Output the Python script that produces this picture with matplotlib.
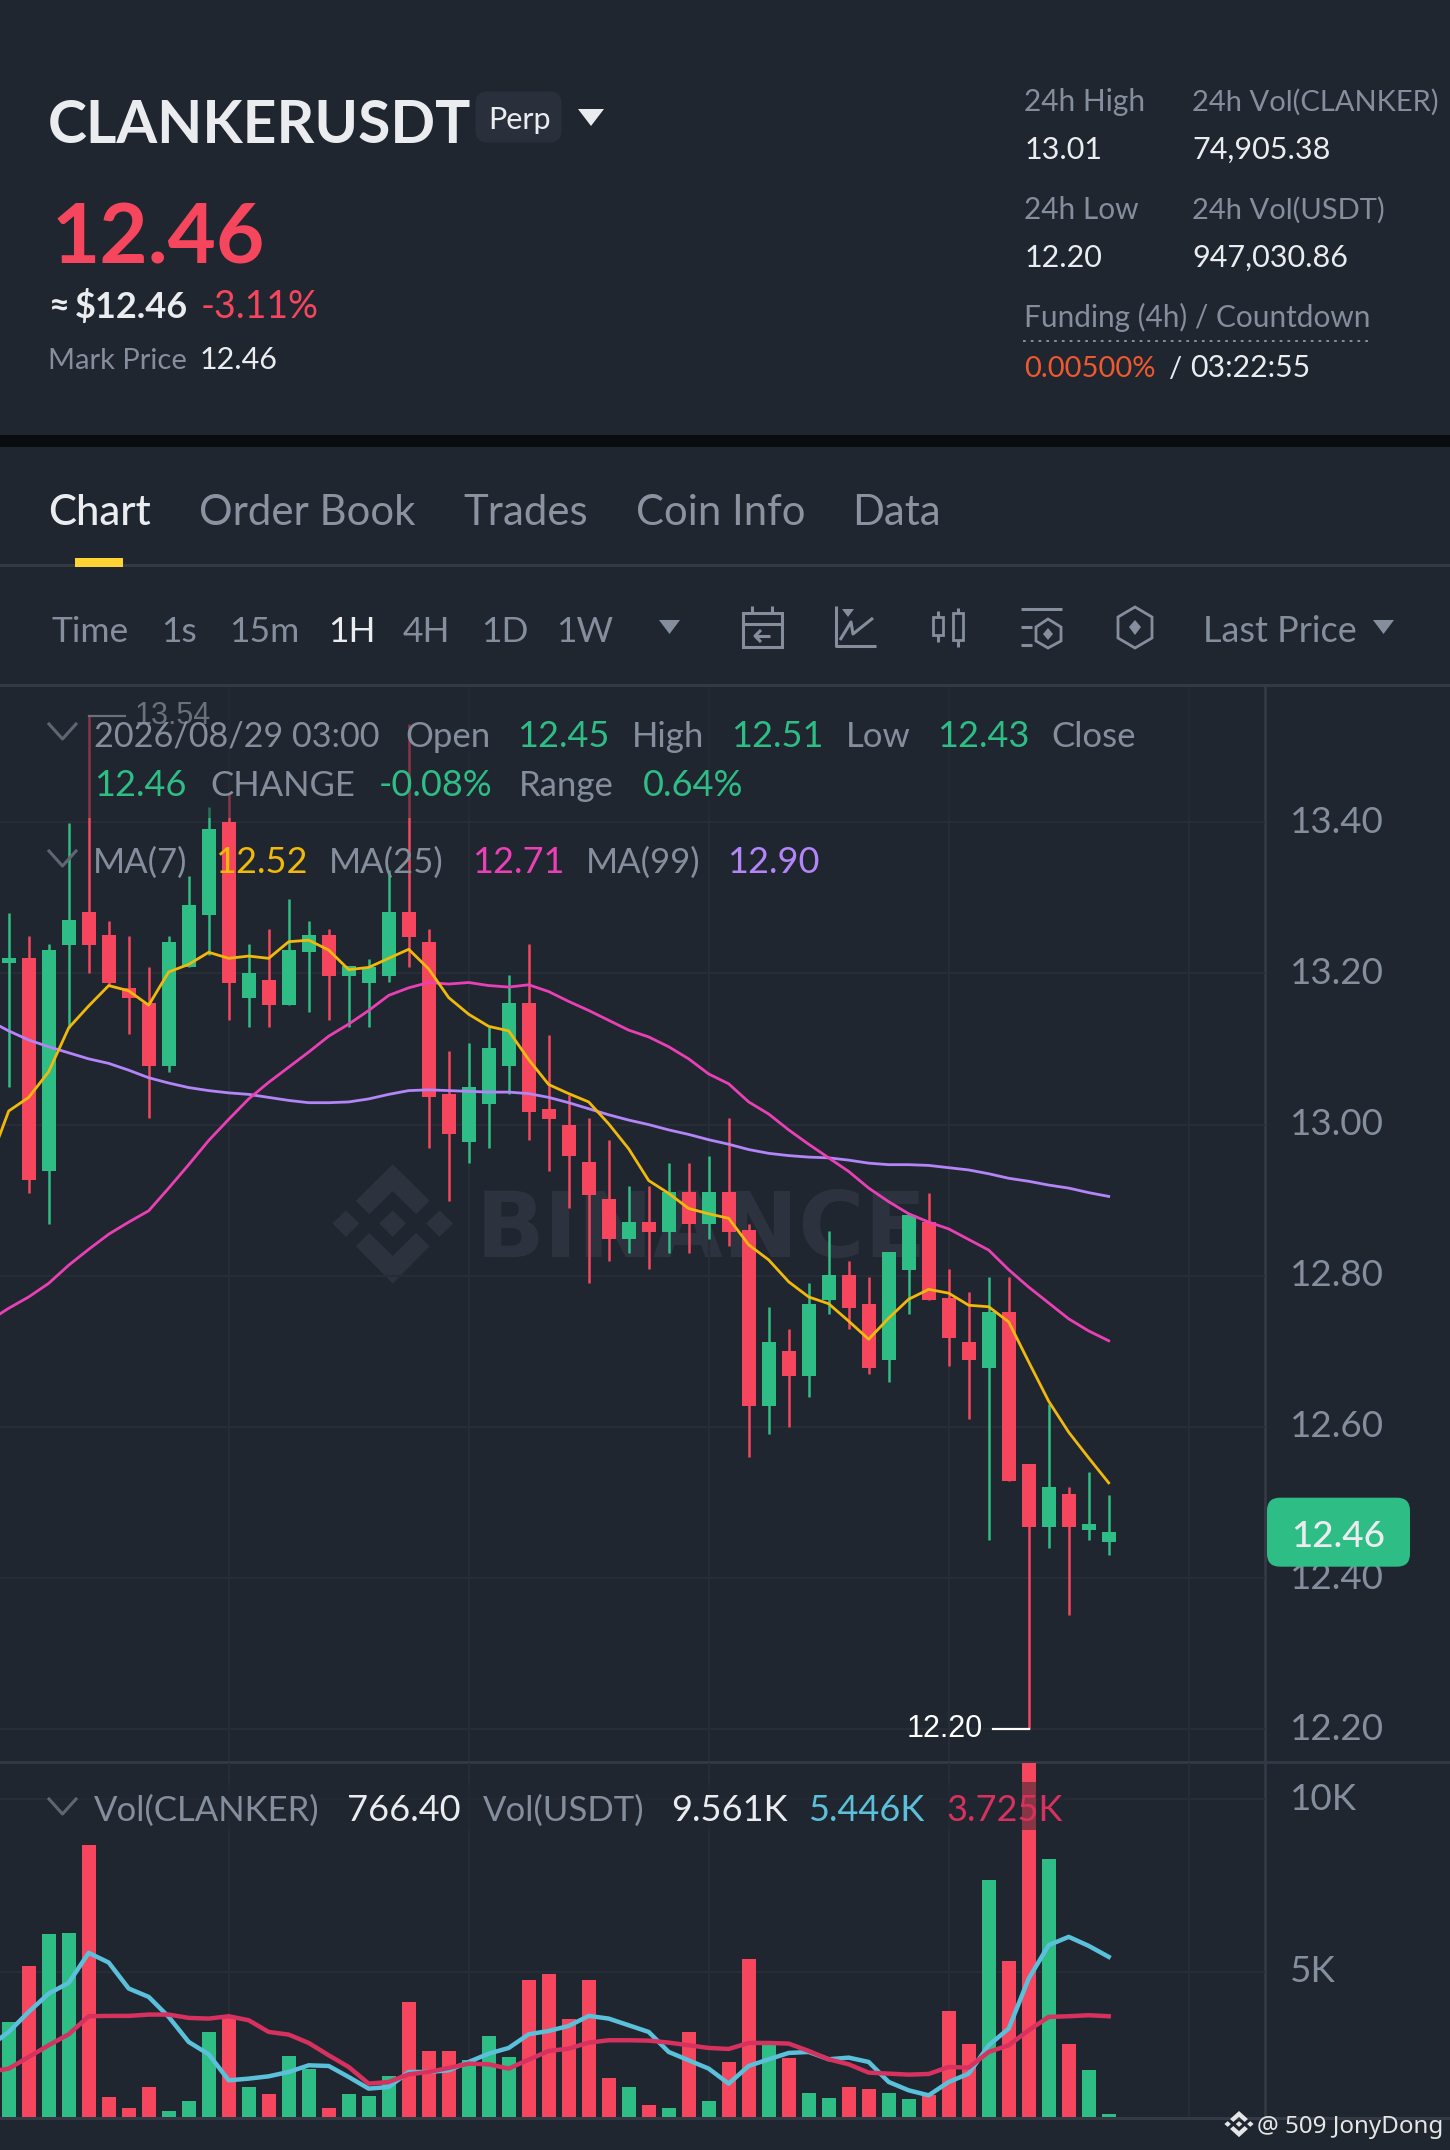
import numpy as np
import matplotlib
matplotlib.use("Agg")
import matplotlib.pyplot as plt
from matplotlib.patches import Rectangle, FancyBboxPatch, Polygon
from matplotlib.transforms import ScaledTranslation

W, H = 1450, 2150
BG = "#1F2630"
GREEN = "#2EBD85"
RED = "#F6465D"
GRAY = "#848E9C"
WHITE = "#EAECEF"
LINE = "#333A46"
GRID = "#272D37"
FONT = ["Lato", "DejaVu Sans"]

# candles, left to right (o, h, l, c)
opens = [13.214, 13.22, 12.938, 13.238, 13.281, 13.251, 13.181, 13.161, 13.077, 13.208,
         13.277, 13.401, 13.168, 13.191, 13.158, 13.228, 13.251, 13.197, 13.187, 13.197,
         13.281, 13.241, 13.04, 12.977, 13.027, 13.077, 13.161, 13.02, 13.0, 12.951,
         12.901, 12.848, 12.871, 12.858, 12.911, 12.868, 12.911, 12.861, 12.628, 12.701,
         12.668, 12.768, 12.801, 12.762, 12.688, 12.808, 12.871, 12.771, 12.712, 12.678,
         12.752, 12.551, 12.468, 12.511, 12.464, 12.448]
closes = [13.22, 12.927, 13.231, 13.271, 13.238, 13.187, 13.168, 13.077, 13.241, 13.291,
          13.391, 13.187, 13.201, 13.158, 13.231, 13.251, 13.197, 13.21, 13.208, 13.281,
          13.248, 13.037, 12.987, 13.05, 13.101, 13.161, 13.017, 13.007, 12.958, 12.907,
          12.848, 12.871, 12.858, 12.911, 12.868, 12.911, 12.858, 12.628, 12.712, 12.668,
          12.762, 12.801, 12.758, 12.678, 12.831, 12.881, 12.768, 12.718, 12.688, 12.752,
          12.528, 12.468, 12.521, 12.468, 12.471, 12.461]
highs = [13.28, 13.25, 13.239, 13.399, 13.54, 13.269, 13.249, 13.209, 13.249, 13.329,
         13.42, 13.437, 13.239, 13.259, 13.299, 13.269, 13.259, 13.21, 13.219, 13.337,
         13.53, 13.259, 13.098, 13.108, 13.129, 13.198, 13.239, 13.119, 13.039, 13.009,
         12.979, 12.919, 12.919, 12.949, 12.949, 12.959, 13.009, 12.869, 12.759, 12.73,
         12.79, 12.859, 12.819, 12.799, 12.831, 12.881, 12.909, 12.809, 12.779, 12.799,
         12.799, 12.551, 12.63, 12.52, 12.54, 12.51]
lows = [13.05, 12.91, 12.869, 13.128, 13.2, 13.183, 13.12, 13.009, 13.069, 13.208,
        13.225, 13.139, 13.129, 13.129, 13.158, 13.149, 13.139, 13.129, 13.129, 13.189,
        13.209, 12.969, 12.899, 12.949, 12.969, 13.04, 12.979, 12.939, 12.89, 12.79,
        12.819, 12.83, 12.809, 12.83, 12.83, 12.849, 12.84, 12.56, 12.59, 12.6,
        12.64, 12.75, 12.73, 12.67, 12.66, 12.75, 12.768, 12.68, 12.61, 12.45,
        12.528, 12.20, 12.44, 12.351, 12.45, 12.43]

# moving averages, first value sits one candle left of the frame
ma7 = [12.947, 13.018, 13.036, 13.07, 13.128, 13.157, 13.184, 13.177, 13.158, 13.202,
       13.212, 13.228, 13.22, 13.223, 13.22, 13.242, 13.244, 13.231, 13.205, 13.208,
       13.22, 13.232, 13.206, 13.168, 13.146, 13.13, 13.124, 13.086, 13.053, 13.041,
       13.03, 13.001, 12.968, 12.926, 12.909, 12.889, 12.882, 12.876, 12.841, 12.821,
       12.792, 12.772, 12.763, 12.74, 12.716, 12.744, 12.769, 12.782, 12.777, 12.761,
       12.759, 12.739, 12.686, 12.634, 12.593, 12.559, 12.526]
ma25 = [12.74, 12.757, 12.772, 12.79, 12.814, 12.835, 12.855, 12.871, 12.886, 12.916,
        12.947, 12.979, 13.007, 13.034, 13.056, 13.076, 13.096, 13.117, 13.133, 13.151,
        13.171, 13.181, 13.188, 13.186, 13.188, 13.184, 13.182, 13.185, 13.176, 13.163,
        13.151, 13.138, 13.125, 13.116, 13.103, 13.087, 13.067, 13.054, 13.03, 13.014,
        12.993, 12.974, 12.956, 12.938, 12.916, 12.898, 12.882, 12.871, 12.862, 12.848,
        12.834, 12.808, 12.785, 12.764, 12.743, 12.727, 12.714]
ma99 = [13.138, 13.124, 13.112, 13.103, 13.095, 13.087, 13.081, 13.072, 13.062, 13.055,
        13.049, 13.045, 13.042, 13.04, 13.036, 13.032, 13.029, 13.029, 13.03, 13.034,
        13.04, 13.045, 13.046, 13.045, 13.044, 13.043, 13.043, 13.041, 13.036, 13.029,
        13.021, 13.013, 13.006, 13.0, 12.993, 12.987, 12.98, 12.974, 12.967, 12.962,
        12.959, 12.957, 12.956, 12.953, 12.949, 12.947, 12.947, 12.946, 12.943, 12.94,
        12.935, 12.929, 12.925, 12.92, 12.916, 12.91, 12.905]

volumes = [3550, 5184, 6083, 6112, 8675, 1374, 1045, 1654, 958, 1267,
           3269, 3695, 1664, 1470, 2573, 2196, 1064, 1451, 1403, 1973,
           4130, 2708, 2708, 2437, 3153, 2524, 4778, 4942, 3627, 4758,
           1935, 1664, 1151, 1064, 3259, 1267, 2389, 5367, 2873, 2505,
           1490, 1354, 1654, 1596, 1490, 1316, 1422, 3869, 2921, 7659,
           5329, 11100, 8268, 2921, 2147, 890]
vol_ma5 = [2824, 3259, 3840, 4371, 4681, 5551, 5271, 4517, 4275, 3695,
           2969, 2612, 1857, 1906, 1973, 2099, 2292, 2273, 1954, 1616,
           1664, 2099, 2099, 2147, 2389, 2631, 2795, 3192, 3288, 3433,
           3724, 3646, 3453, 3259, 2679, 2437, 2196, 1761, 2273, 2467,
           2650, 2679, 2467, 2515, 2389, 1809, 1567, 1422, 1809, 2051,
           2873, 3356, 4807, 5774, 6015, 5754, 5435]
vol_ma10 = [2099, 2196, 2534, 2873, 3192, 3714, 3724, 3724, 3762, 3762,
            3666, 3646, 3714, 3598, 3259, 3182, 2940, 2583, 2244, 1761,
            1809, 2031, 2099, 2215, 2341, 2321, 2196, 2457, 2708, 2776,
            2950, 3018, 3018, 3008, 2950, 2873, 2795, 2766, 2940, 2940,
            2921, 2708, 2467, 2321, 2080, 2051, 2022, 2041, 2244, 2225,
            2679, 2873, 3308, 3695, 3714, 3743, 3714]

price_ticks = [13.40, 13.20, 13.00, 12.80, 12.60, 12.40, 12.20]
vol_ticks = [5000, 10000]
vol_tick_labels = ["5K", "10K"]
time_ticks = [11, 23, 35, 47, 59]
periods = ["Time", "1s", "15m", "1H", "4H", "1D", "1W"]
period_x = [52, 161, 229, 328, 403, 481, 556]
tabs = ["Chart", "Order Book", "Trades", "Coin Info", "Data"]
tab_x = [48, 199, 463, 636, 852]

xs = np.arange(len(opens))
ma_xs = np.arange(-1, len(opens))
fig = plt.figure(figsize=(W / 100, H / 100), dpi=100, facecolor=BG)


def px_axes(z):
    a = fig.add_axes([0, 0, 1, 1], zorder=z)
    a.set_xlim(0, W)
    a.set_ylim(H, 0)
    a.axis("off")
    return a


def txt(a, x, y, s, size, color=GRAY, weight="normal", family=FONT, **kw):
    a.text(x, y, s, fontsize=size, color=color, fontweight=weight, family=family,
           va=kw.pop("va", "baseline"), zorder=kw.pop("zorder", 3), **kw)


def pane(top, bottom):
    a = fig.add_axes([0, 1 - bottom / H, 1265 / W, (bottom - top) / H], zorder=2)
    a.set_facecolor("none")
    a.set_xlim(-0.435, 62.815)
    for s in a.spines.values():
        s.set_visible(False)
    a.set_xticks(time_ticks)
    a.yaxis.tick_right()
    a.tick_params(length=0, labelbottom=False, labelsize=26.5, labelcolor=GRAY, pad=18)
    a.grid(True, color=GRID, lw=1.6)
    a.set_axisbelow(True)
    return a


def nudge_labels(a):
    # tick labels sit a little above their grid lines
    up = ScaledTranslation(0, 3 / 100, fig.dpi_scale_trans)
    for lab in a.get_yticklabels():
        lab.set_family(FONT)
        lab.set_transform(lab.get_transform() + up)


back = px_axes(0)
front = px_axes(5)

# header
back.add_patch(Rectangle((0, 435), W, 12, color="#0A0D10", lw=0))
txt(back, 48, 143, "CLANKERUSDT", 42.3, WHITE, "bold")
back.add_patch(FancyBboxPatch((481, 97), 75, 40, boxstyle="round,pad=0,rounding_size=6",
                              mutation_aspect=1, color="#2A303B", lw=8))
txt(back, 488, 129, "Perp", 22, WHITE)
back.add_patch(Polygon([(578, 109), (604, 109), (591, 126)], color=WHITE, lw=0))
txt(back, 52, 264, "12.46", 60, RED, "bold")
txt(back, 48, 318, "≈", 26, WHITE, "bold")
txt(back, 75, 318, "$12.46", 26, WHITE, "bold")
txt(back, 201, 318, "-3.11%", 27, RED)
txt(back, 48, 369, "Mark Price", 21)
txt(back, 200, 369, "12.46", 22, WHITE)

txt(back, 1024, 111, "24h High", 21.5)
txt(back, 1192, 111, "24h Vol(CLANKER)", 21)
txt(back, 1025, 159, "13.01", 22, WHITE)
txt(back, 1192, 159, "74,905.38", 22, WHITE)
txt(back, 1024, 219, "24h Low", 21.5)
txt(back, 1192, 219, "24h Vol(USDT)", 21)
txt(back, 1025, 267, "12.20", 22, WHITE)
txt(back, 1192, 267, "947,030.86", 22, WHITE)
txt(back, 1024, 327, "Funding (4h) / Countdown", 21.4)
back.plot([1023, 1368], [341, 341], color=GRAY, lw=1.4, ls=(0, (1.4, 2.6)))
txt(back, 1024, 377, "0.00500%", 21, "#F0582F")
txt(back, 1168, 377, "/", 21, WHITE)
txt(back, 1190, 377, "03:22:55", 21.8, WHITE)

# tabs and toolbar
for label, x in zip(tabs, tab_x):
    txt(back, x, 525, label, 30.2, WHITE if label == "Chart" else "#8B93A0",
        "medium" if label == "Chart" else "normal")
back.plot([0, W], [565, 565], color=LINE, lw=2.2)
back.add_patch(Rectangle((75, 558), 48, 9, color="#FCD535", lw=0, zorder=3))

for label, x in zip(periods, period_x):
    txt(back, x, 642, label, 25.5, WHITE if label == "1H" else GRAY)
txt(back, 1203, 642, "Last Price", 26)
back.add_patch(Polygon([(659, 620), (680, 620), (669.5, 634)], color=GRAY, lw=0))
back.add_patch(Polygon([(1373, 620), (1394, 620), (1383.5, 634)], color=GRAY, lw=0))
back.plot([0, W], [685, 685], color=LINE, lw=2.2)

# toolbar icons
ic = dict(color=GRAY, lw=2.2, solid_capstyle="butt")
back.add_patch(Rectangle((743, 613), 39, 34, fill=False, ec=GRAY, lw=2.2))
back.plot([743, 782], [624, 624], **ic)
back.plot([752, 752], [606, 613], **ic)
back.plot([772, 772], [606, 613], **ic)
back.plot([756, 770], [636, 636], **ic)
back.plot([761, 755, 761], [630, 636, 642], **ic)
back.plot([836, 836, 876], [606, 646, 646], **ic)
back.plot([840, 851, 853, 873], [640, 622, 634, 618], **ic)
back.add_patch(Polygon([(842, 609), (854, 609), (848, 617)], color=GRAY, lw=0))
for cx, t, b, wt, wb in [(938, 617, 635, 611, 642), (958, 613, 640, 608, 647)]:
    back.add_patch(Rectangle((cx - 5, t), 10, b - t, fill=False, ec=GRAY, lw=2))
    back.plot([cx, cx], [wt, t], **ic)
    back.plot([cx, cx], [b, wb], **ic)
back.plot([1021, 1062], [609, 609], **ic)
back.plot([1021, 1032], [627, 627], **ic)
back.plot([1021, 1032], [645, 645], **ic)
back.add_patch(Polygon([(1048, 619), (1061, 627), (1061, 641), (1048, 648), (1036, 641), (1036, 627)],
                       fill=False, ec=GRAY, lw=2))
back.add_patch(Polygon([(1048, 628), (1053, 634), (1048, 640), (1043, 634)], color=GRAY, lw=0))
back.add_patch(Polygon([(1135, 607), (1152, 617), (1152, 638), (1135, 648), (1118, 638), (1118, 617)],
                       fill=False, ec=GRAY, lw=2))
back.add_patch(Polygon([(1135, 620), (1141, 627), (1135, 635), (1129, 627)], color=GRAY, lw=0))

# watermark


def logo(a, cx, cy, sx, sy, color, z=1):
    # binance mark, unit square of the drawing centred on 0
    parts = [[(-139, 0), (-108, -39), (-77, 0), (-108, 40)],
             [(-31, 0), (0, -39), (31, 0), (0, 40)],
             [(77, 0), (108, -39), (139, 0), (108, 40)],
             [(0, -178), (85, -68), (54, -28), (0, -97), (-54, -28), (-85, -68)],
             [(0, 180), (85, 68), (54, 28), (0, 97), (-54, 28), (-85, 68)]]
    for p in parts:
        a.add_patch(Polygon([(cx + x * sx, cy + y * sy) for x, y in p], color=color, lw=0, zorder=z))


logo(back, 392.7, 1223.5, 1 / 2.306, 1 / 3, "#2D333E")
txt(back, 476, 1257, "BINANCE", 65, "#2D333E", "bold", family="DejaVu Sans", zorder=1)

# price pane
ax = pane(687, 1761)
ax.set_ylim(12.158, 13.579)
ax.set_yticks(price_ticks)
ax.set_yticklabels(["%.2f" % v for v in price_ticks])
nudge_labels(ax)
colors = [GREEN if c >= o else RED for o, c in zip(opens, closes)]
ax.vlines(xs, lows, highs, colors=colors, lw=1.8, zorder=2)
ax.bar(xs, np.array(closes) - np.array(opens), bottom=opens, width=0.7, color=colors, lw=0, zorder=2)
ax.plot(ma_xs, ma99, color="#B385F8", lw=2, zorder=3)
ax.plot(ma_xs, ma25, color="#EB40B5", lw=2, zorder=3)
ax.plot(ma_xs, ma7, color="#F0B90B", lw=2, zorder=4)

hi = int(np.argmax(highs))
lo = int(np.argmin(lows))
ax.plot([hi, hi + 1.8], [highs[hi], highs[hi]], color="#B7BDC6", lw=1.6, zorder=4)
ax.text(hi + 2.3, highs[hi], "%.2f" % highs[hi], fontsize=22, color="#B7BDC6", va="center",
        family="Liberation Sans", zorder=4)
ax.plot([lo - 1.8, lo], [lows[lo], lows[lo]], color="#FFFFFF", lw=1.6, zorder=4)
ax.text(lo - 2.3, lows[lo], "%.2f" % lows[lo], fontsize=22, color="#FFFFFF", va="center", ha="right",
        family="Liberation Sans", zorder=4)

# volume pane
vx = pane(1763, 2117)
vx.set_ylim(794, 11053)
vx.set_yticks(vol_ticks)
vx.set_yticklabels(vol_tick_labels)
nudge_labels(vx)
vx.bar(xs, volumes, width=0.7, color=colors, lw=0, zorder=2)
vx.plot(ma_xs, vol_ma5, color="#5BC0DA", lw=3.2, zorder=3)
vx.plot(ma_xs, vol_ma10, color="#D6315F", lw=3.2, zorder=3)

# separators above the panes
back.plot([1265, 1265], [686, 2117], color=LINE, lw=2, zorder=1)
back.plot([0, W], [1762, 1762], color=LINE, lw=2, zorder=1)
back.plot([0, W], [2118, 2118], color=LINE, lw=2.2, zorder=1)

# legend rows over the panes, the marks under them are dimmed
front.add_patch(Rectangle((0, 687), 1264, 131, color=BG, alpha=0.5, lw=0, zorder=1))
front.add_patch(Rectangle((50, 1782), 1015, 48, color=BG, alpha=0.5, lw=0, zorder=1))
chev = dict(color="#5E6673", lw=2.2, zorder=3)
for cy in [724, 851, 1799]:
    front.plot([49, 62.5, 76], [cy, cy + 15, cy], **chev)

row1 = [(94, "2026/08/29 03:00", GRAY), (405, "Open", GRAY), (517, "12.45", GREEN), (632, "High", GRAY),
        (731, "12.51", GREEN), (846, "Low", GRAY), (937, "12.43", GREEN), (1051, "Close", GRAY)]
row2 = [(94, "12.46", GREEN), (210, "CHANGE", GRAY), (379, "-0.08%", GREEN), (519, "Range", GRAY),
        (643, "0.64%", GREEN)]
row3 = [(93, "MA(7)", GRAY), (215, "12.52", "#F0B90B"), (329, "MA(25)", GRAY), (472, "12.71", "#EB40B5"),
        (586, "MA(99)", GRAY), (727, "12.90", "#B385F8")]
row4 = [(94, "Vol(CLANKER)", GRAY), (347, "766.40", WHITE), (483, "Vol(USDT)", GRAY), (671, "9.561K", WHITE),
        (808, "5.446K", "#5BC0DA"), (946, "3.725K", "#D6315F")]
for y, row in [(747, row1), (796, row2), (873, row3), (1821, row4)]:
    for x, s, c in row:
        # figures run wider than the words in the original
        size = 26 if s[0].isdigit() or s[0] == "-" else 25
        txt(front, x, y, s, 24.6 if "/" in s else size, c)

# last price tag
last_y = 1124.7 + (13 - closes[-1]) * 756
front.add_patch(FancyBboxPatch((1267, last_y - 34.5), 143, 69, boxstyle="round,pad=0,rounding_size=13",
                               color=GREEN, lw=0, zorder=2))
txt(front, 1338.5, last_y + 1, "%.2f" % closes[-1], 26.5, WHITE, "medium", ha="center", va="center_baseline")

# credit
logo(front, 1239, 2124, 0.105, 0.073, "#E6E6E6", z=3)
txt(front, 1257, 2133, "@ 509 JonyDong", 17.4, "#E6E6E6", family=["Noto Sans", "DejaVu Sans"])

fig.savefig("out.png", dpi=100, facecolor=BG)
